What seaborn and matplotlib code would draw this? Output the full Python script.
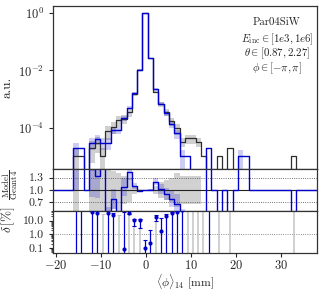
import numpy as np
import pandas as pd
import matplotlib
matplotlib.use("Agg")
import matplotlib.pyplot as plt
import matplotlib.ticker as mticker
import seaborn as sns

# binning of <phi>_14 in mm
bin_start = -16.15
bin_width = 1.18
n_pad = 4  # empty bins on both sides so the steps run to the frame

# normalised profiles per bin (a.u.)
geant4 = [1.0e-5, 1.0e-5, 0, 2.0e-5, 3.0e-5, 1.0e-5, 7.4e-5, 1.07e-4, 1.8e-4, 2.05e-4,
          3.5e-4, 1.47e-3, 1.08e-2, 1.0, 2.694e-2, 1.83e-3, 6.67e-4, 3.55e-4, 1.67e-4, 9.4e-5,
          3.2e-5, 4.2e-5, 4.2e-5, 3.2e-5, 1.0e-5, 0, 0, 1.0e-5, 0, 2.0e-5,
          0, 0, 0, 0, 0, 0, 0, 0, 0, 0, 0, 1.0e-5]
model = [2.0e-5, 2.0e-5, 0, 3.0e-5, 4.0e-5, 3.0e-5, 3.0e-5, 8.4e-5, 8.3e-5, 2.2e-4,
         5.0e-4, 1.6e-3, 1.05e-2, 1.0, 2.7e-2, 2.2e-3, 6.8e-4, 3.2e-4, 1.3e-4, 6.3e-5,
         1.0e-5, 1.0e-5, 0, 0, 0, 2.0e-5, 0, 0, 0, 0,
         0, 1.0e-5, 1.0e-5, 0, 0, 0, 0, 0, 0, 0, 0, 0]

# relative uncertainties per bin
rel_geant4 = [0.9, 0.9, 0, 0.7, 0.55, 0.9, 0.5, 0.45, 0.4, 0.35,
              0.3, 0.1, 0.03, 0.005, 0.02, 0.1, 0.2, 0.25, 0.3, 0.4,
              0.35, 0.35, 0.35, 0.35, 0.9, 0, 0, 0.9, 0, 0.7,
              0, 0, 0, 0, 0, 0, 0, 0, 0, 0, 0, 0.9]
rel_model = [0.5, 0.5, 0, 0.45, 0.4, 0.45, 0.45, 0.3, 0.3, 0.2,
             0.13, 0.07, 0.03, 0.005, 0.02, 0.07, 0.12, 0.17, 0.25, 0.35,
             0.7, 0.7, 0, 0, 0, 0.5, 0, 0, 0, 0,
             0, 0.7, 0.7, 0, 0, 0, 0, 0, 0, 0, 0, 0]

# delta [%] per bin: model points with error bars
delta_bins = [0, 1, 3, 4, 6, 7, 9, 10, 11, 12, 13, 14, 15, 16, 17, 18, 19, 20, 25]
delta_val = [100, 100, 40, 34, 38, 26, 0.085, 38, 11, 11, 0.1, 0.22, 18, 1.7, 23, 34, 40, 55, 100]
delta_hi = [200, 200, 60, 48, 55, 35, 45, 48, 14, 14, 0.38, 2.2, 25, 15, 30, 45, 55, 70, 200]
delta_lo = [0.01, 0.01, 0.01, 0.01, 0.01, 0.01, 0.01, 30, 4, 3, 0.01, 0.01, 9.4, 0.01, 0.01, 0.01, 0.01, 0.01, 0.01]
# reference-side bars (grey)
grey_bins = [5, 8, 10, 11, 12, 15, 21, 22, 23, 24, 27, 29, 41]
grey_hi = [29, 26, 30, 4, 3, 9.4, 100, 100, 100, 100, 100, 100, 100]

labels_box = ["Par04SiW", r"$E_{\mathrm{inc}} \in [1e3, 1e6]$",
              r"$\theta \in [0.87, 2.27]$", r"$\phi \in [-\pi, \pi]$"]

BLUE = "mediumblue"
DARK = "#2e2e2e"

sns.set_style("ticks")
plt.rcParams["font.family"] = "serif"
plt.rcParams["font.serif"] = ["cmr10"]
plt.rcParams["mathtext.fontset"] = "cm"
plt.rcParams["axes.formatter.use_mathtext"] = True
plt.rcParams["axes.edgecolor"] = "#333333"
plt.rcParams["axes.linewidth"] = 0.9

g4 = np.pad(np.array(geant4, float), n_pad)
md = np.pad(np.array(model, float), n_pad)
rg = np.pad(np.array(rel_geant4, float), n_pad)
rm = np.pad(np.array(rel_model, float), n_pad)
edges = bin_start - n_pad * bin_width + bin_width * np.arange(len(g4) + 1)
centers = 0.5 * (edges[:-1] + edges[1:])
bin_list = list(edges)

ratio = np.ones_like(g4)
ok = g4 > 0
ratio[ok] = md[ok] / g4[ok]
ratio[(g4 == 0) & (md > 0)] = 10.0

df = pd.DataFrame({"phi": centers, "geant4": g4, "model": md, "ratio": ratio})


def band(ax, lo, hi, **kw):
    ax.fill_between(edges, np.append(lo, lo[-1]), np.append(hi, hi[-1]),
                    step="post", linewidth=0, **kw)


fig = plt.figure(figsize=(3.24, 2.92), dpi=100)
ax_top = fig.add_axes([0.1636, 0.4202, 0.8148, 0.5603])
ax_r = fig.add_axes([0.1636, 0.2784, 0.8148, 0.1418], sharex=ax_top)
ax_d = fig.add_axes([0.1636, 0.1346, 0.8148, 0.1438], sharex=ax_top)

# ---- main panel
g4_band = np.where(g4 > 0, g4, np.nan)
md_band = np.where(md > 0, md, np.nan)
band(ax_top, g4_band * (1 - rg), g4_band * (1 + rg), color="#8a8a8a", alpha=0.4)
band(ax_top, md_band * (1 - rm), md_band * (1 + rm), color=BLUE, alpha=0.2)
sns.histplot(data=df, x="phi", weights="geant4", bins=bin_list, element="step", fill=False,
             color=DARK, linewidth=0.9, ax=ax_top)
sns.histplot(data=df, x="phi", weights="model", bins=bin_list, element="step", fill=False,
             color=BLUE, linewidth=1.0, ax=ax_top)
ax_top.set_yscale("log")
ax_top.set_ylim(3.5e-6, 1.84)
ax_top.yaxis.set_major_locator(mticker.FixedLocator([1e-4, 1e-2, 1]))
ax_top.yaxis.set_minor_locator(mticker.NullLocator())
ax_top.set_ylabel("a.u.", fontsize=9.5)
ax_top.yaxis.set_label_coords(-0.150, 0.5)
ax_top.tick_params(axis="y", labelsize=9, length=3)
ax_top.tick_params(axis="x", length=0, labelbottom=False)
for t, yy in zip(labels_box, [0.896, 0.795, 0.709, 0.617]):
    ax_top.text(0.848, yy, t, transform=ax_top.transAxes, ha="center", va="center",
                fontsize=7.8, color="#222222")

# ---- ratio panel
ratio_band = np.where(ok, 1.0, np.nan)
band(ax_r, ratio_band - rg, ratio_band + rg, color="#9a9a9a", alpha=0.45)
rb = np.where(ok & (md > 0), ratio, np.nan)
band(ax_r, rb * (1 - rm), rb * (1 + rm), color=BLUE, alpha=0.2)
ax_r.axhline(1.0, color="#222222", lw=0.8)
ax_r.axhline(1.3, color="#444444", lw=0.6, ls=":")
ax_r.axhline(0.7, color="#444444", lw=0.6, ls=":")
sns.histplot(data=df, x="phi", weights="ratio", bins=bin_list, element="step", fill=False,
             color=BLUE, linewidth=1.0, ax=ax_r)
ax_r.set_ylim(0.5, 1.5)
ax_r.yaxis.set_major_locator(mticker.FixedLocator([0.7, 1.0, 1.3]))
ax_r.yaxis.set_major_formatter(mticker.FixedFormatter(["0.7", "1.0", "1.3"]))
ax_r.tick_params(axis="y", labelsize=8.5, length=3)
ax_r.tick_params(axis="x", length=0, labelbottom=False)
ax_r.set_ylabel(r"$\dfrac{\mathrm{Model}}{\mathrm{Geant4}}$", fontsize=6.5)
ax_r.yaxis.set_label_coords(-0.126, 0.62)

# ---- delta panel
ax_d.set_yscale("log")
ax_d.axhline(1.0, color="#666666", lw=0.6, ls=":")
gx = centers[n_pad + np.array(grey_bins)]
gh = np.array(grey_hi, float)
ax_d.errorbar(gx, gh, yerr=[gh - 0.01, np.zeros_like(gh)], fmt="none",
              ecolor="#c4c4c4", elinewidth=1.1, capsize=1.5, capthick=0.8)
dx = centers[n_pad + np.array(delta_bins)]
dv = np.array(delta_val, float)
ax_d.errorbar(dx, dv, yerr=[dv - np.array(delta_lo), np.array(delta_hi) - dv], fmt="none",
              ecolor=BLUE, elinewidth=0.9, capsize=1.5, capthick=0.8)
sns.scatterplot(x=dx, y=dv, color=BLUE, s=9, linewidth=0, ax=ax_d, zorder=4)
ax_d.set_ylim(0.0454, 52.7)
ax_d.yaxis.set_major_locator(mticker.FixedLocator([0.1, 1, 10]))
ax_d.yaxis.set_major_formatter(mticker.FixedFormatter(["0.1", "1.0", "10.0"]))
ax_d.yaxis.set_minor_locator(mticker.LogLocator(base=10, subs=np.arange(2, 10)))
ax_d.yaxis.set_minor_formatter(mticker.NullFormatter())
ax_d.tick_params(axis="y", labelsize=8.5, length=3)
ax_d.tick_params(axis="y", which="minor", length=1.5)
ax_d.set_ylabel(r"$\delta\,[\%]$", fontsize=9.5)
ax_d.yaxis.set_label_coords(-0.136, 0.78)

ax_d.set_xlim(-20.7, 38.0)
ax_d.xaxis.set_major_locator(mticker.FixedLocator([-20, -10, 0, 10, 20, 30]))
ax_d.tick_params(axis="x", labelsize=9, length=3, pad=1.5)
ax_d.set_xlabel(r"$\langle \phi \rangle_{14}\ [\mathrm{mm}]$", fontsize=8.5)
ax_d.xaxis.set_label_coords(0.5, -0.47)

fig.savefig("out.png", dpi=100)
